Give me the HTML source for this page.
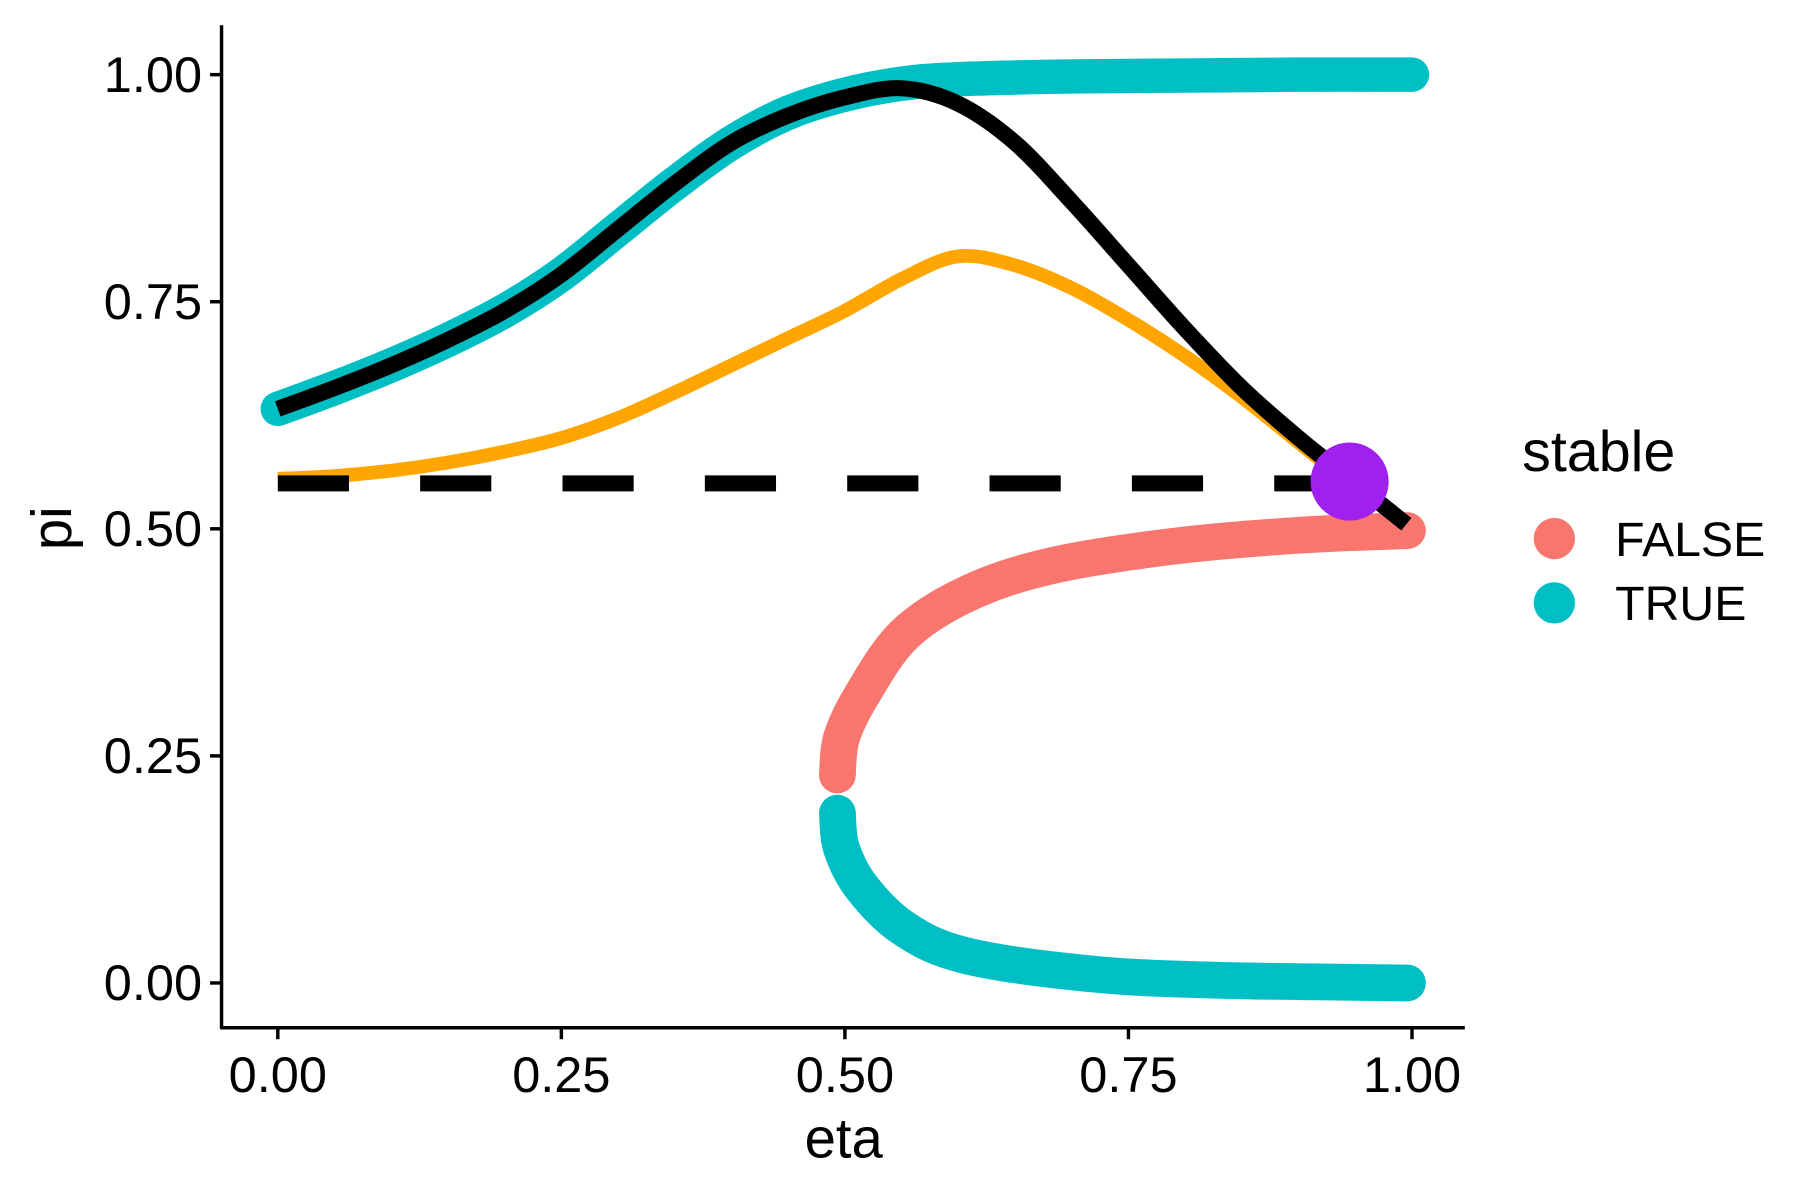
<!DOCTYPE html>
<html><head><meta charset="utf-8"><style>
html,body{margin:0;padding:0;background:#fff;}
svg{display:block;font-family:"Liberation Sans",Arial,sans-serif;}
</style></head><body>
<svg id="chart" width="1800" height="1200" viewBox="0 0 1568 1045" preserveAspectRatio="none" xmlns="http://www.w3.org/2000/svg">
<g id="plot"></g>
<g id="axes"></g>
<g id="legend">
  <text x="1326" y="410" font-size="50" fill="#000">stable</text>
  <circle cx="1354" cy="469" r="18" fill="#F8766D"/>
  <text x="1407" y="484" font-size="42">FALSE</text>
  <circle cx="1354" cy="525" r="18" fill="#00BFC4"/>
  <text x="1407" y="540" font-size="42">TRUE</text>
</g>
</svg>
<script>
const upperEta=[0,0.05,0.1,0.15,0.2,0.25,0.3,0.35,0.4,0.45,0.5,0.55,0.6,0.7,0.8,0.9,1];
const upperPi=[0.632,0.655,0.68,0.708,0.74,0.78,0.83,0.88,0.925,0.958,0.978,0.99,0.995,0.998,0.999,1,1];
const blackEta=[0,0.05,0.1,0.15,0.2,0.25,0.3,0.35,0.4,0.45,0.5,0.55,0.6,0.65,0.7,0.75,0.8,0.85,0.9,0.95,0.995];
const blackPi=[0.632,0.655,0.68,0.708,0.74,0.78,0.83,0.88,0.925,0.955,0.975,0.985,0.968,0.925,0.86,0.79,0.72,0.655,0.6,0.55,0.505];
const orangeEta=[0,0.05,0.1,0.15,0.2,0.25,0.3,0.35,0.4,0.45,0.5,0.55,0.6,0.65,0.7,0.75,0.8,0.85,0.9,0.94];
const orangePi=[0.555,0.558,0.564,0.573,0.585,0.6,0.622,0.65,0.68,0.71,0.74,0.775,0.8,0.79,0.765,0.73,0.69,0.645,0.595,0.555];
const falseEta=[0.4934,0.497,0.515,0.552,0.607,0.681,0.791,0.901,0.996];
const falsePi=[0.229,0.27,0.317,0.383,0.428,0.459,0.481,0.493,0.498];
const lowerEta=[0.4934,0.497,0.515,0.552,0.607,0.717,0.828,0.996];
const lowerPi=[0.187,0.148,0.105,0.06,0.03,0.01,0.003,0];
const dashY=0.55, dashX0=0, dashX1=0.945;
const fixedEta=0.945, fixedPi=0.552;
const xTicks=[0,0.25,0.5,0.75,1], yTicks=[0,0.25,0.5,0.75,1];
const xTickLabels=["0.00","0.25","0.50","0.75","1.00"], yTickLabels=["0.00","0.25","0.50","0.75","1.00"];

const X=v=>242+v*(1230-242), Y=v=>856-v*(856-65);
const NS="http://www.w3.org/2000/svg";
const plot=document.getElementById('plot'), axes=document.getElementById('axes');
function mk(tag,attrs,parent){const e=document.createElementNS(NS,tag);for(const k in attrs)e.setAttribute(k,attrs[k]);parent.appendChild(e);return e;}
function pathD(xs,ys){
  const p=xs.map((x,i)=>[X(x),Y(ys[i])]);let d=`M${p[0][0]},${p[0][1]}`;
  for(let i=0;i<p.length-1;i++){const p0=p[i-1]||p[i],p1=p[i],p2=p[i+1],p3=p[i+2]||p2;
    d+=` C${p1[0]+(p2[0]-p0[0])/6},${p1[1]+(p2[1]-p0[1])/6} ${p2[0]-(p3[0]-p1[0])/6},${p2[1]-(p3[1]-p1[1])/6} ${p2[0]},${p2[1]}`;}
  return d;}
let e;
e=mk('path',{d:pathD(falseEta,falsePi),stroke:'#F8766D','stroke-width':32,fill:'none','stroke-linecap':'round','stroke-linejoin':'round'},plot);


e=mk('path',{d:pathD(lowerEta,lowerPi),stroke:'#00BFC4','stroke-width':32,fill:'none','stroke-linecap':'round','stroke-linejoin':'round'},plot);


e=mk('path',{d:pathD(upperEta,upperPi),stroke:'#00BFC4','stroke-width':30,fill:'none','stroke-linecap':'round','stroke-linejoin':'round'},plot);


e=mk('path',{d:pathD(orangeEta,orangePi),stroke:'#FFA500','stroke-width':12,fill:'none'},plot);


e=mk('path',{d:pathD(blackEta,blackPi),stroke:'#000','stroke-width':14,fill:'none'},plot);


e=mk('line',{x1:X(dashX0),x2:X(dashX1),y1:Y(dashY),y2:Y(dashY),stroke:'#000','stroke-width':14,'stroke-dasharray':'62 62'},plot);


e=mk('circle',{cx:X(fixedEta),cy:Y(fixedPi),r:34,fill:'#A020F0'},plot);



e=mk('line',{x1:193,x2:193,y1:22,y2:896,stroke:'#000','stroke-width':3},axes);


e=mk('line',{x1:192,x2:1276,y1:895,y2:895,stroke:'#000','stroke-width':3},axes);


xTicks.forEach((v,i)=>{
  let t=mk('line',{x1:X(v),x2:X(v),y1:895,y2:905,stroke:'#000','stroke-width':3},axes);
  
  
  let l=mk('text',{x:X(v),y:951,'font-size':44,'text-anchor':'middle'},axes);l.textContent=xTickLabels[i];
  
  
});
yTicks.forEach((v,i)=>{
  let t=mk('line',{x1:183,x2:193,y1:Y(v),y2:Y(v),stroke:'#000','stroke-width':3},axes);
  
  
  let l=mk('text',{x:176,y:Y(v)+15,'font-size':44,'text-anchor':'end'},axes);l.textContent=yTickLabels[i];
  
  
});
e=mk('text',{x:735,y:1008,'font-size':49,'text-anchor':'middle'},axes);e.textContent='eta';


e=mk('text',{x:0,y:0,'font-size':49,'text-anchor':'middle',transform:'translate(62,460) rotate(-90)'},axes);e.textContent='pi';


</script>
</body></html>
